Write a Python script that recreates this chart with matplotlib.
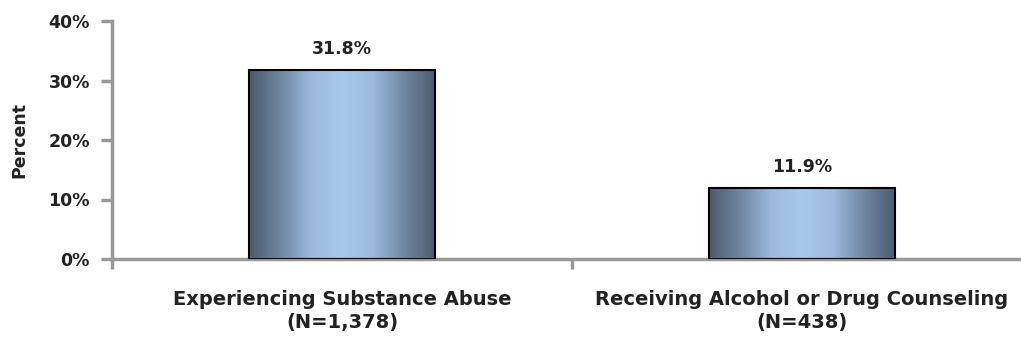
import numpy as np
import matplotlib
matplotlib.use("Agg")
import matplotlib.pyplot as plt
from matplotlib.colors import LinearSegmentedColormap

# datos del grafico
categorias = ["Experiencing Substance Abuse\n(N=1,378)",
              "Receiving Alcohol or Drug Counseling\n(N=438)"]
valores = [31.8, 11.9]
etiquetas = ["31.8%", "11.9%"]

gris = "#999999"
texto = "#222222"
cmap = LinearSegmentedColormap.from_list(
    "barra", ["#4b5b6e", "#6f86a0", "#9bbadc", "#a8c9ec", "#9bbadc", "#6f86a0", "#4b5b6e"])

fig = plt.figure(figsize=(10.21, 3.44), dpi=100)
ax = fig.add_axes([112 / 1021, 1 - 259 / 344, 920 / 1021, 238 / 344])

x = np.arange(len(valores))
ancho = 0.405
barras = ax.bar(x, valores, width=ancho, color="none", edgecolor="black", linewidth=1.5, zorder=3)

# degradado horizontal dentro de cada barra
grad = np.linspace(0, 1, 256).reshape(1, -1)
for b in barras:
    x0, y0 = b.get_x(), b.get_y()
    w, h = b.get_width(), b.get_height()
    im = ax.imshow(grad, cmap=cmap, aspect="auto", extent=[x0, x0 + w, y0, y0 + h], zorder=2)
    im.set_clip_path(b)

for xi, v, t in zip(x, valores, etiquetas):
    ax.text(xi, v + 2.0, t, ha="center", va="bottom", fontsize=12.5, fontweight="bold", color=texto)

ax.set_xlim(-0.5, 1.5)
ax.set_ylim(0, 40)
ax.set_yticks([0, 10, 20, 30, 40])
ax.set_yticklabels(["0%", "10%", "20%", "30%", "40%"], fontsize=12.5, fontweight="bold", color=texto)
ax.set_xticks([-0.5, 0.5, 1.5])
ax.set_xticklabels([])
ax.set_xticks(x, minor=True)
ax.set_xticklabels(categorias, minor=True, fontsize=14, fontweight="bold", color=texto, linespacing=1.3)
ax.tick_params(axis="x", which="minor", length=0, pad=22)
ax.tick_params(axis="x", which="major", length=7, width=2.5, color=gris)
ax.tick_params(axis="y", length=8, width=2.5, color=gris, pad=8)
ax.set_ylabel("Percent", fontsize=12.5, fontweight="bold", color=texto, labelpad=14)

for s in ["top", "right"]:
    ax.spines[s].set_visible(False)
for s in ["left", "bottom"]:
    ax.spines[s].set_color(gris)
    ax.spines[s].set_linewidth(2.5)

fig.savefig("out.png", dpi=100)
